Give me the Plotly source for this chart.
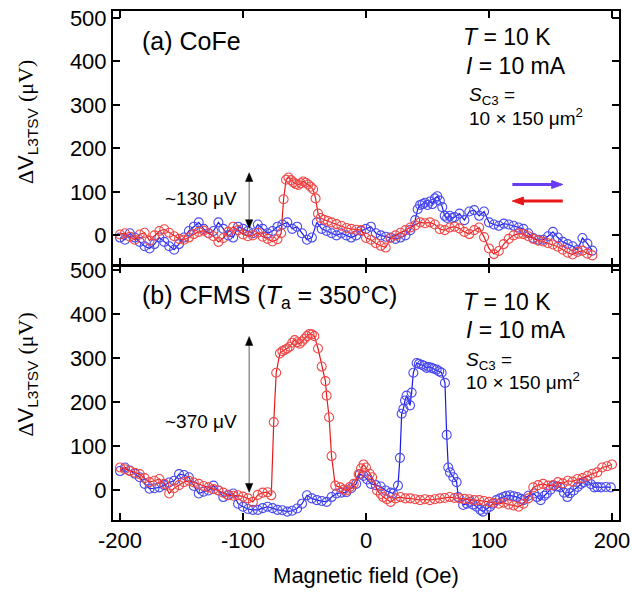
import plotly.graph_objects as go
from plotly.subplots import make_subplots

# ---------------- data (H in Oe, dV in uV) ----------------
cofe_up = [(-200,-5),(-196,-10),(-192,5),(-188,-5),(-184,-15),(-180,-25),(-176,-30),(-172,-20),(-168,-5),(-164,-15),
           (-160,-25),(-156,-33),(-152,-20),(-148,-5),(-144,10),(-140,20),(-136,30),(-132,15),(-128,5),(-124,10),
           (-120,30),(-116,15),(-112,0),(-108,-5),(-104,20),(-100,15),(-96,10),(-92,5),(-88,25),(-84,15),
           (-80,5),(-76,10),(-72,20),(-68,25),(-64,30),(-60,15),(-56,20),(-52,5),(-48,-10),(-44,-5),
           (-40,30),(-36,15),(-32,10),(-28,5),(-24,0),(-20,5),(-16,0),(-12,-5),(-8,0),(-4,10),
           (0,15),(4,20),(8,5),(12,0),(16,-3),(20,-5),(24,-8),(28,-5),(32,0),(36,12),
           (40,35),(42,60),(44,70),(46,72),(48,75),(50,70),(52,78),(54,72),(56,85),(58,90),
           (60,80),(62,65),(64,45),(66,40),(68,45),(70,40),(72,42),(76,50),(80,35),(84,55),
           (88,58),(92,45),(96,55),(100,30),(104,25),(108,22),(112,27),(116,25),(120,22),(124,18),
           (128,15),(132,5),(136,-6),(140,-10),(144,-10),(148,-2),(152,8),(156,-5),(160,-15),(164,-20),
           (168,-25),(172,-33),(176,-6),(180,-19),(184,-35)]

cofe_down = [(-200,2),(-196,5),(-192,-3),(-188,-10),(-184,2),(-180,6),(-176,-12),(-172,0),(-168,10),(-164,14),
             (-160,6),(-156,-2),(-152,-8),(-148,-10),(-144,-5),(-140,3),(-136,8),(-132,11),(-128,5),(-124,-2),
             (-120,-15),(-116,-6),(-112,8),(-108,20),(-104,12),(-100,2),(-96,-2),(-92,0),(-88,6),(-84,-3),
             (-80,-8),(-76,-14),(-72,-9),(-69,5),(-67,83),(-65,128),(-63,133),(-61,127),(-59,122),(-57,118),
             (-55,116),(-53,120),(-51,124),(-49,121),(-47,117),(-45,112),(-43,106),(-41,85),(-39,50),(-37,40),
             (-34,36),(-31,33),(-28,30),(-24,26),(-20,22),(-16,17),(-12,15),(-8,13),(-4,12),(0,-6),
             (4,-10),(8,-18),(12,-24),(16,-28),(20,-6),(24,0),(28,6),(32,12),(36,18),(40,23),
             (44,30),(48,28),(52,30),(56,25),(60,14),(64,12),(68,18),(72,20),(76,16),(80,8),
             (84,3),(88,12),(92,18),(96,-4),(100,-30),(104,-43),(108,-36),(112,-20),(116,-8),(120,0),
             (124,4),(128,3),(132,-2),(136,-8),(140,-12),(144,-14),(148,-18),(152,-21),(156,-26),(160,-33),
             (164,-40),(168,-44),(172,-38),(176,-35),(180,-42),(184,-46)]

cfms_up = [(-200,44),(-196,52),(-192,45),(-188,38),(-184,30),(-180,15),(-176,4),(-172,5),(-168,7),(-164,12),
           (-160,18),(-156,22),(-152,37),(-148,35),(-144,30),(-140,10),(-136,-7),(-132,-3),(-128,0),(-124,11),
           (-120,0),(-116,-15),(-112,-10),(-108,-7),(-104,-30),(-100,-37),(-96,-42),(-92,-44),(-88,-44),(-84,-40),
           (-80,-37),(-76,-40),(-72,-44),(-68,-45),(-64,-48),(-60,-46),(-56,-41),(-52,-30),(-48,-11),(-44,-18),
           (-40,-22),(-36,-24),(-32,-26),(-28,-15),(-24,-7),(-20,-5),(-16,-4),(-12,5),(-8,15),(-5,37),
           (-2,33),(1,25),(4,15),(8,12),(12,9),(16,0),(20,-5),(22,-7),(26,11),(27.6,74),
           (29,174),(30.4,185),(31.7,204),(33,215),(35.8,193),(37.1,222),(38.5,267),(41.2,289),(43,287),(45.2,285),
           (47,283),(49.3,278),(51,280),(53.3,278),(55,276),(57.4,274),(59.5,270),(61.5,267),(64.2,244),(65.6,126),
           (66.9,52),(68.3,41),(71,30),(73.7,19),(75,-15),(79,-33),(82,-30),(84.5,-26),(87,-32),(90,-37),
           (93,-44),(95,-48),(98,-42),(100.8,-37),(103,-30),(106,-22),(109,-18),(111.7,-15),(114,-12),(117,-11),
           (120,-13),(123,-15),(126,-19),(128,-22),(132,-12),(136.6,-7),(139,-15),(142,-22),(145,-12),(147,-7),
           (150,2),(152.8,11),(155,9),(158,7),(161,-5),(163.7,-15),(166,-6),(169,0),(172,8),(174.8,15),
           (177,19),(180,22),(183,14),(185.7,7),(188,8),(191,7),(195,8),(199,7)]

cfms_down = [(-200,52),(-196,48),(-192,44),(-188,40),(-184,37),(-180,28),(-176,19),(-172,22),(-168,26),(-164,15),
             (-160,-7),(-156,5),(-152,12),(-148,19),(-144,22),(-140,18),(-136,15),(-132,10),(-128,7),(-124,3),
             (-120,0),(-116,-5),(-112,-11),(-108,-12),(-104,-11),(-100,-14),(-96,-18),(-92,-26),(-88,-10),(-84,-5),
             (-80,-4),(-77,-11),(-75,155),(-73,267),(-70,311),(-68,316),(-66,319),(-64,322),(-62,326),(-60,335),
             (-58,341),(-56,336),(-54,333),(-52,338),(-50,344),(-48,350),(-46,355),(-44,354),(-42,350),(-39,322),
             (-36,281),(-33,248),(-32,215),(-30,166),(-28,78),(-25,11),(-21,7),(-18,2),(-16,0),(-13,8),
             (-10,15),(-6,37),(-4,50),(-2,59),(0,52),(3,38),(5,30),(9,0),(12,-8),(14,-15),
             (17,-20),(20,-26),(24,-18),(28,-15),(32,-18),(36,-18),(40,-20),(44,-22),(48,-20),(52,-22),
             (56,-20),(60,-18),(64,-17),(68,-15),(72,-17),(76,-18),(80,-19),(84,-20),(88,-22),(92,-22),
             (96,-24),(100,-26),(104,-28),(108,-30),(112,-28),(116,-32),(120,-34),(124,-37),(128,-30),(132,-18),
             (136,7),(140,12),(144,15),(148,11),(152,12),(156,19),(160,16),(164,22),(168,20),(172,26),
             (176,28),(180,33),(184,38),(188,41),(192,52),(196,55),(200,59)]

x_ticks = [-200, -100, 0, 100, 200]
x_tick_text = ["-200", "-100", "0", "100", "200"]
y_ticks = [0, 100, 200, 300, 400, 500]

BLUE_LINE = "#1a1ae6"
BLUE_MK = "#4a4af0"
RED_LINE = "#e61a1a"
RED_MK = "#f04848"
FONT = "Liberation Sans, Arial, sans-serif"

fig = make_subplots(rows=2, cols=1, shared_xaxes=False, vertical_spacing=0)

def add_series(data, line_c, mk_c, row):
    fig.add_trace(go.Scatter(
        x=[p[0] for p in data], y=[p[1] for p in data], mode="lines+markers",
        line=dict(color=line_c, width=1.2),
        marker=dict(symbol="circle-open", size=9, color=mk_c, line=dict(width=1.1, color=mk_c)),
        showlegend=False, hoverinfo="skip"), row=row, col=1)

add_series(cofe_up, BLUE_LINE, BLUE_MK, 1)
add_series(cofe_down, RED_LINE, RED_MK, 1)
add_series(cfms_up, BLUE_LINE, BLUE_MK, 2)
add_series(cfms_down, RED_LINE, RED_MK, 2)

ax_common = dict(showline=True, linewidth=2, linecolor="black", mirror="ticks",
                 ticks="inside", ticklen=7, tickwidth=1.5, tickcolor="black",
                 showgrid=False, zeroline=False, tickfont=dict(size=22, color="black", family=FONT))

PH = 518.0
fig.update_xaxes(range=[-205.7, 205.7], tickvals=x_ticks, ticktext=x_tick_text, **ax_common)
fig.update_xaxes(showticklabels=False, row=1, col=1)
fig.update_xaxes(title=dict(text="Magnetic field (Oe)", font=dict(size=22, color="black", family=FONT), standoff=15),
                 row=2, col=1)
fig.update_yaxes(tickvals=y_ticks, **ax_common)
fig.update_yaxes(range=[-67, 516], domain=[0.5 + 1 / PH, 1], row=1, col=1)
fig.update_yaxes(range=[-67, 508], domain=[0, 0.5 - 1 / PH], row=2, col=1)

ann = []
def txt(x, y, text, size, xref="paper", yref="paper", xanchor="left"):
    ann.append(dict(x=x, y=y, xref=xref, yref=yref, text=text, showarrow=False, xanchor=xanchor,
                    yanchor="middle", font=dict(size=size, color="black", family=FONT)))

W0, W1 = 113, 620
H0, H1 = 2, 520
def px(x):
    return (x - W0) / (W1 - W0)
def py(y):
    return (H1 - y) / (H1 - H0)

ylab = '<span style="font-family:Liberation Serif">Δ</span>V<sub>L3TSV</sub> <span style="font-family:Liberation Serif">(μV)</span>'
for yc in (115, 372):
    ann.append(dict(x=0, y=py(yc), xref="paper", yref="paper", xshift=-86, text=ylab, textangle=-90,
                    showarrow=False, xanchor="center", yanchor="middle",
                    font=dict(size=22, color="black", family=FONT)))

txt(px(140), py(33), "(a) CoFe", 25)
txt(px(462), py(28), "<i>T</i> = 10 K", 23)
txt(px(465), py(58), "<i>I</i> = 10 mA", 23)
txt(px(468), py(88), "<i>S</i><sub>C3</sub> =", 19)
txt(px(468), py(110), "10 × 150 μm<sup>2</sup>", 19)
txt(px(163), py(193), "~130 μV", 19)

txt(px(140), py(293), "(b) CFMS (<i>T</i><sub>a</sub> = 350°C)", 25)
txt(px(462), py(298), "<i>T</i> = 10 K", 23)
txt(px(465), py(327), "<i>I</i> = 10 mA", 23)
txt(px(465), py(358), "<i>S</i><sub>C3</sub> =", 19)
txt(px(465), py(379), "10 × 150 μm<sup>2</sup>", 19)
txt(px(163), py(420), "~370 μV", 19)

# ---- arrows drawn as shapes ----
def hline_arrow(x_tail, x_head, yv, color):
    # head ~11 px long (~9 Oe), ~8 px wide (~9 uV on top panel)
    d = 9 if x_head > x_tail else -9
    fig.add_shape(type="line", xref="x", yref="y", x0=x_tail, x1=x_head - d * 0.6, y0=yv, y1=yv,
                  line=dict(color=color, width=3))
    fig.add_shape(type="path", xref="x", yref="y",
                  path=f"M {x_head} {yv} L {x_head - d} {yv + 9} L {x_head - d} {yv - 9} Z",
                  fillcolor=color, line=dict(color=color, width=1))

hline_arrow(119, 160, 117, "#6a3cf0")
hline_arrow(160, 119, 79, "#e81818")

def vdouble_arrow(xr, yr, xv, ytop, ybot):
    hl, hw = 20, 3.0  # head length in uV, half width in Oe
    fig.add_shape(type="line", xref=xr, yref=yr, x0=xv, x1=xv, y0=ybot + hl * 0.8, y1=ytop - hl * 0.8,
                  line=dict(color="#777777", width=1.2))
    fig.add_shape(type="path", xref=xr, yref=yr,
                  path=f"M {xv} {ytop} L {xv - hw} {ytop - hl} L {xv + hw} {ytop - hl} Z",
                  fillcolor="black", line=dict(color="black", width=0.5))
    fig.add_shape(type="path", xref=xr, yref=yr,
                  path=f"M {xv} {ybot} L {xv - hw} {ybot + hl} L {xv + hw} {ybot + hl} Z",
                  fillcolor="black", line=dict(color="black", width=0.5))

vdouble_arrow("x", "y", -95, 144, 16)
vdouble_arrow("x2", "y2", -95, 349, -4)

fig.update_layout(width=632, height=598, margin=dict(l=113, r=12, t=2, b=78),
                  paper_bgcolor="white", plot_bgcolor="white", annotations=ann,
                  font=dict(family=FONT, color="black"))

fig.write_html("out.html")
